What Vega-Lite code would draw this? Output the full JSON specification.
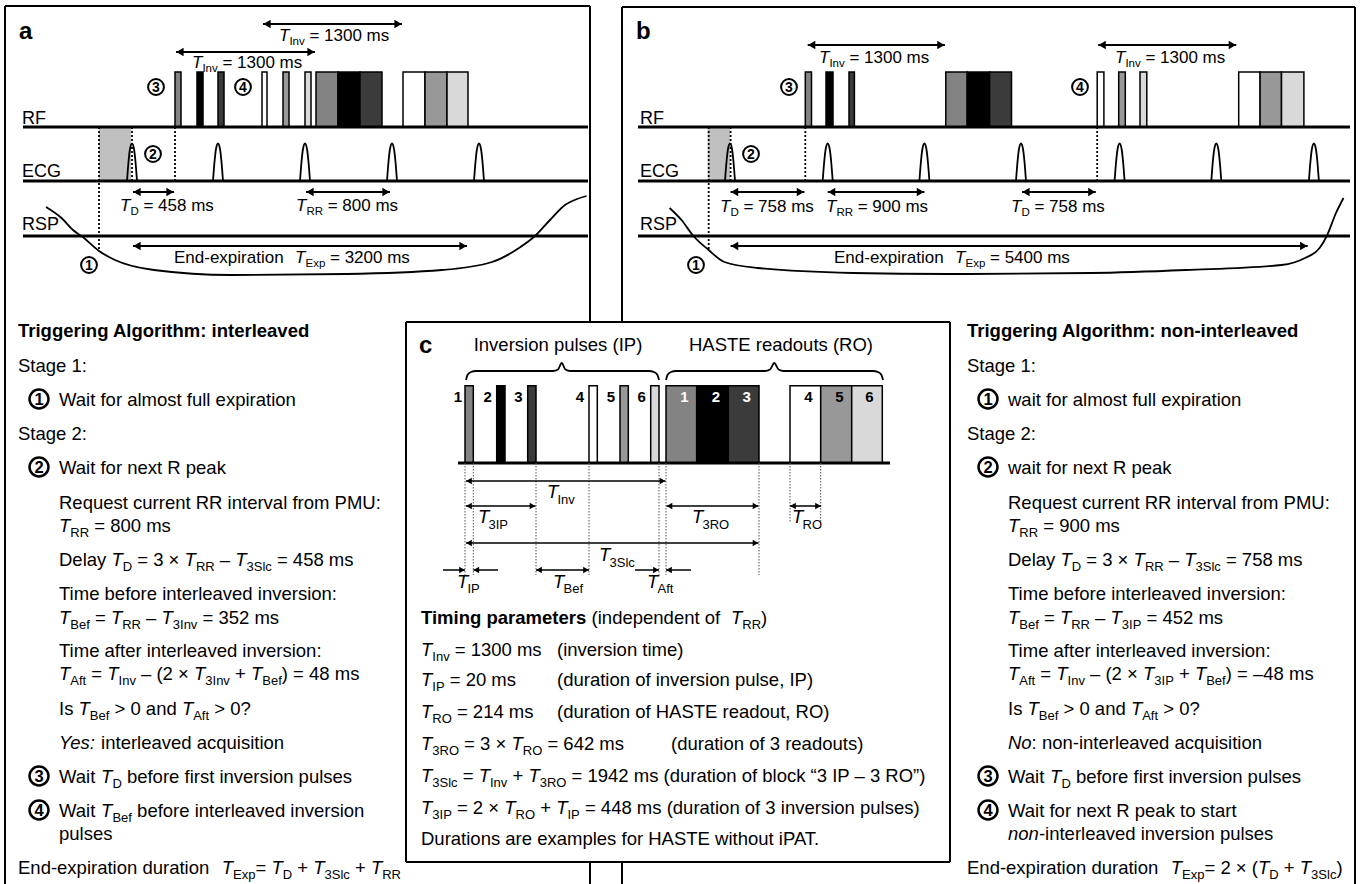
{
"$schema":"https://vega.github.io/schema/vega-lite/v6.json",
"width":1361,"height":884,"padding":0,"autosize":{"type":"none"},
"background":"white",
"config":{"view":{"stroke":null},"font":"Liberation Sans"},
"datasets":{
"shade":[{"x":99,"x2":131,"y":127,"y2":181},{"x":707.7,"x2":730,"y":127,"y2":181}],
"pulses":[
{"x":175,"x2":181,"y":72,"y2":127,"sl":"1"},{"x":197,"x2":203,"y":72,"y2":127,"sl":"2"},{"x":218,"x2":224,"y":72,"y2":127,"sl":"3"},{"x":262,"x2":267,"y":72,"y2":127,"sl":"4"},{"x":283,"x2":289,"y":72,"y2":127,"sl":"5"},{"x":305,"x2":311,"y":72,"y2":127,"sl":"6"},
{"x":316,"x2":338,"y":72,"y2":127,"sl":"1"},{"x":338,"x2":360,"y":72,"y2":127,"sl":"2"},{"x":360,"x2":382,"y":72,"y2":127,"sl":"3"},{"x":403,"x2":425,"y":72,"y2":127,"sl":"4"},{"x":425,"x2":447,"y":72,"y2":127,"sl":"5"},{"x":447,"x2":468,"y":72,"y2":127,"sl":"6"},
{"x":805.3,"x2":811.5,"y":72,"y2":127,"sl":"1"},{"x":826,"x2":833,"y":72,"y2":127,"sl":"2"},{"x":849,"x2":854.4,"y":72,"y2":127,"sl":"3"},{"x":945.8,"x2":967.2,"y":72,"y2":127,"sl":"1"},{"x":967.2,"x2":989.6,"y":72,"y2":127,"sl":"2"},{"x":989.6,"x2":1011.5,"y":72,"y2":127,"sl":"3"},
{"x":1097.2,"x2":1103.9,"y":72,"y2":127,"sl":"4"},{"x":1118.7,"x2":1125.3,"y":72,"y2":127,"sl":"5"},{"x":1140,"x2":1146.8,"y":72,"y2":127,"sl":"6"},{"x":1238.7,"x2":1260.1,"y":72,"y2":127,"sl":"4"},{"x":1260.1,"x2":1281.5,"y":72,"y2":127,"sl":"5"},{"x":1281.5,"x2":1303.9,"y":72,"y2":127,"sl":"6"},
{"x":465,"x2":473.3,"y":385.7,"y2":463,"sl":"1"},{"x":496.7,"x2":505,"y":385.7,"y2":463,"sl":"2"},{"x":527.7,"x2":536,"y":385.7,"y2":463,"sl":"3"},{"x":589,"x2":597.3,"y":385.7,"y2":463,"sl":"4"},{"x":620,"x2":628.3,"y":385.7,"y2":463,"sl":"5"},{"x":650.7,"x2":659,"y":385.7,"y2":463,"sl":"6"},
{"x":666,"x2":696.7,"y":385.7,"y2":463,"sl":"1"},{"x":696.7,"x2":728.3,"y":385.7,"y2":463,"sl":"2"},{"x":728.3,"x2":759,"y":385.7,"y2":463,"sl":"3"},{"x":790,"x2":820.7,"y":385.7,"y2":463,"sl":"4"},{"x":820.7,"x2":851.7,"y":385.7,"y2":463,"sl":"5"},{"x":851.7,"x2":882.3,"y":385.7,"y2":463,"sl":"6"}
],
"lines":[
{"x":5,"y":6,"x2":5,"y2":884,"k":"bd"},{"x":5,"y":6,"x2":590,"y2":6,"k":"bd"},{"x":590,"y":6,"x2":590,"y2":322,"k":"bd"},{"x":590,"y":862,"x2":590,"y2":884,"k":"bd"},
{"x":622,"y":7,"x2":1355,"y2":7,"k":"bd"},{"x":622,"y":7,"x2":622,"y2":322,"k":"bd"},{"x":622,"y":862,"x2":622,"y2":884,"k":"bd"},{"x":1355,"y":7,"x2":1355,"y2":884,"k":"bd"},
{"x":406,"y":322,"x2":950,"y2":322,"k":"bd"},{"x":406,"y":322,"x2":406,"y2":862,"k":"bd"},{"x":950,"y":322,"x2":950,"y2":862,"k":"bd"},{"x":406,"y":862,"x2":950,"y2":862,"k":"bd"},
{"x":23,"y":127,"x2":588,"y2":127,"k":"th"},{"x":23,"y":181,"x2":588,"y2":181,"k":"th"},{"x":23,"y":236,"x2":588,"y2":236,"k":"th"},
{"x":638,"y":127,"x2":1350,"y2":127,"k":"th"},{"x":638,"y":181,"x2":1350,"y2":181,"k":"th"},{"x":638,"y":236,"x2":1350,"y2":236,"k":"th"},
{"x":458,"y":463,"x2":890,"y2":463,"k":"th"},
{"x":99,"y":127,"x2":99,"y2":251,"k":"dt"},{"x":132,"y":127,"x2":132,"y2":181,"k":"dt"},{"x":175,"y":127,"x2":175,"y2":181,"k":"dt"},
{"x":708.7,"y":127,"x2":708.7,"y2":250,"k":"dt"},{"x":730.6,"y":127,"x2":730.6,"y2":181,"k":"dt"},{"x":805.3,"y":127,"x2":805.3,"y2":181,"k":"dt"},{"x":1097.2,"y":127,"x2":1097.2,"y2":181,"k":"dt"},
{"x":263,"y":24,"x2":402,"y2":24,"k":"ar"},{"x":176,"y":52,"x2":315,"y2":52,"k":"ar"},{"x":133,"y":192,"x2":174,"y2":192,"k":"ar"},{"x":306,"y":192,"x2":390,"y2":192,"k":"ar"},{"x":133,"y":246,"x2":467,"y2":246,"k":"ar"},
{"x":807.7,"y":45,"x2":944.9,"y2":45,"k":"ar"},{"x":1098.2,"y":45,"x2":1236.3,"y2":45,"k":"ar"},{"x":730.6,"y":192,"x2":804.4,"y2":192,"k":"ar"},{"x":827.7,"y":192,"x2":924.4,"y2":192,"k":"ar"},{"x":1022,"y":192,"x2":1095.8,"y2":192,"k":"ar"},{"x":730.6,"y":246,"x2":1307.7,"y2":246,"k":"ar"},
{"x":466,"y":481,"x2":665.5,"y2":481,"k":"ca"},{"x":466,"y":506,"x2":535.5,"y2":506,"k":"ca"},{"x":666.5,"y":506,"x2":758.5,"y2":506,"k":"ca"},{"x":790,"y":506,"x2":821,"y2":506,"k":"ca"},{"x":466,"y":543,"x2":758.5,"y2":543,"k":"ca"},
{"x":443,"y":570,"x2":465,"y2":570,"k":"ca"},{"x":473.3,"y":570,"x2":498,"y2":570,"k":"ca"},{"x":536,"y":570,"x2":589,"y2":570,"k":"ca"},{"x":635,"y":570,"x2":659,"y2":570,"k":"ca"},{"x":666,"y":570,"x2":691,"y2":570,"k":"ca"},
{"x":465,"y":463,"x2":465,"y2":575,"k":"cd"},{"x":473.3,"y":463,"x2":473.3,"y2":575,"k":"cd"},{"x":536,"y":463,"x2":536,"y2":575,"k":"cd"},{"x":589,"y":463,"x2":589,"y2":575,"k":"cd"},{"x":659,"y":463,"x2":659,"y2":575,"k":"cd"},{"x":666,"y":463,"x2":666,"y2":575,"k":"cd"},{"x":759,"y":463,"x2":759,"y2":575,"k":"cd"},{"x":790,"y":463,"x2":790,"y2":523,"k":"cd"},{"x":820.7,"y":463,"x2":820.7,"y2":523,"k":"cd"}
],
"curves":[
{"id":"ra","x":46,"y":207},{"id":"ra","x":61.5,"y":218},{"id":"ra","x":73,"y":230},{"id":"ra","x":82.7,"y":237},{"id":"ra","x":99,"y":251},{"id":"ra","x":115,"y":260},{"id":"ra","x":154,"y":270},{"id":"ra","x":231,"y":275},{"id":"ra","x":346,"y":274},{"id":"ra","x":442,"y":270},{"id":"ra","x":492,"y":262},{"id":"ra","x":519,"y":248},{"id":"ra","x":535,"y":236},{"id":"ra","x":550,"y":220},{"id":"ra","x":565,"y":205},{"id":"ra","x":577,"y":199},{"id":"ra","x":586.5,"y":196},
{"id":"rb","x":669.6,"y":208},{"id":"rb","x":681.5,"y":220},{"id":"rb","x":693.4,"y":236},{"id":"rb","x":708.7,"y":250},{"id":"rb","x":724.4,"y":262},{"id":"rb","x":757.7,"y":268},{"id":"rb","x":853,"y":273},{"id":"rb","x":948,"y":274},{"id":"rb","x":1091,"y":273},{"id":"rb","x":1186,"y":270},{"id":"rb","x":1281.5,"y":265},{"id":"rb","x":1305,"y":258},{"id":"rb","x":1319.6,"y":248},{"id":"rb","x":1326.8,"y":236},{"id":"rb","x":1336,"y":213},{"id":"rb","x":1343.5,"y":198},
{"id":"ea1","x":127,"y":181},{"id":"ea1","x":128.4,"y":163},{"id":"ea1","x":130,"y":149},{"id":"ea1","x":132,"y":143.5},{"id":"ea1","x":134,"y":149},{"id":"ea1","x":135.6,"y":163},{"id":"ea1","x":137,"y":181},
{"id":"ea2","x":213,"y":181},{"id":"ea2","x":214.4,"y":163},{"id":"ea2","x":216,"y":149},{"id":"ea2","x":218,"y":143.5},{"id":"ea2","x":220,"y":149},{"id":"ea2","x":221.6,"y":163},{"id":"ea2","x":223,"y":181},
{"id":"ea3","x":300,"y":181},{"id":"ea3","x":301.4,"y":163},{"id":"ea3","x":303,"y":149},{"id":"ea3","x":305,"y":143.5},{"id":"ea3","x":307,"y":149},{"id":"ea3","x":308.6,"y":163},{"id":"ea3","x":310,"y":181},
{"id":"ea4","x":387,"y":181},{"id":"ea4","x":388.4,"y":163},{"id":"ea4","x":390,"y":149},{"id":"ea4","x":392,"y":143.5},{"id":"ea4","x":394,"y":149},{"id":"ea4","x":395.6,"y":163},{"id":"ea4","x":397,"y":181},
{"id":"ea5","x":474,"y":181},{"id":"ea5","x":475.4,"y":163},{"id":"ea5","x":477,"y":149},{"id":"ea5","x":479,"y":143.5},{"id":"ea5","x":481,"y":149},{"id":"ea5","x":482.6,"y":163},{"id":"ea5","x":484,"y":181},
{"id":"eb1","x":725,"y":181},{"id":"eb1","x":726.4,"y":163},{"id":"eb1","x":728,"y":149},{"id":"eb1","x":730,"y":143.5},{"id":"eb1","x":732,"y":149},{"id":"eb1","x":733.6,"y":163},{"id":"eb1","x":735,"y":181},
{"id":"eb2","x":822.7,"y":181},{"id":"eb2","x":824.1,"y":163},{"id":"eb2","x":825.7,"y":149},{"id":"eb2","x":827.7,"y":143.5},{"id":"eb2","x":829.7,"y":149},{"id":"eb2","x":831.3,"y":163},{"id":"eb2","x":832.7,"y":181},
{"id":"eb3","x":919.4,"y":181},{"id":"eb3","x":920.8,"y":163},{"id":"eb3","x":922.4,"y":149},{"id":"eb3","x":924.4,"y":143.5},{"id":"eb3","x":926.4,"y":149},{"id":"eb3","x":928,"y":163},{"id":"eb3","x":929.4,"y":181},
{"id":"eb4","x":1016,"y":181},{"id":"eb4","x":1017.4,"y":163},{"id":"eb4","x":1019,"y":149},{"id":"eb4","x":1021,"y":143.5},{"id":"eb4","x":1023,"y":149},{"id":"eb4","x":1024.6,"y":163},{"id":"eb4","x":1026,"y":181},
{"id":"eb5","x":1114.6,"y":181},{"id":"eb5","x":1116,"y":163},{"id":"eb5","x":1117.6,"y":149},{"id":"eb5","x":1119.6,"y":143.5},{"id":"eb5","x":1121.6,"y":149},{"id":"eb5","x":1123.2,"y":163},{"id":"eb5","x":1124.6,"y":181},
{"id":"eb6","x":1211.3,"y":181},{"id":"eb6","x":1212.7,"y":163},{"id":"eb6","x":1214.3,"y":149},{"id":"eb6","x":1216.3,"y":143.5},{"id":"eb6","x":1218.3,"y":149},{"id":"eb6","x":1219.9,"y":163},{"id":"eb6","x":1221.3,"y":181},
{"id":"eb7","x":1308.9,"y":181},{"id":"eb7","x":1310.3,"y":163},{"id":"eb7","x":1311.9,"y":149},{"id":"eb7","x":1313.9,"y":143.5},{"id":"eb7","x":1315.9,"y":149},{"id":"eb7","x":1317.5,"y":163},{"id":"eb7","x":1318.9,"y":181},
{"id":"br1","x":466,"y":380},{"id":"br1","x":467.5,"y":375},{"id":"br1","x":471,"y":372},{"id":"br1","x":476,"y":371},{"id":"br1","x":553,"y":371},{"id":"br1","x":558,"y":369.5},{"id":"br1","x":561.7,"y":363},{"id":"br1","x":565.4,"y":369.5},{"id":"br1","x":570.4,"y":371},{"id":"br1","x":649,"y":371},{"id":"br1","x":654,"y":372},{"id":"br1","x":657.5,"y":375},{"id":"br1","x":659,"y":380},
{"id":"br2","x":666,"y":380},{"id":"br2","x":667.5,"y":375},{"id":"br2","x":671,"y":372},{"id":"br2","x":676,"y":371},{"id":"br2","x":765,"y":371},{"id":"br2","x":770,"y":369.5},{"id":"br2","x":774.3,"y":363},{"id":"br2","x":778.6,"y":369.5},{"id":"br2","x":783.6,"y":371},{"id":"br2","x":873,"y":371},{"id":"br2","x":878,"y":372},{"id":"br2","x":881.5,"y":375},{"id":"br2","x":883,"y":380}
],
"heads":[
{"x":267,"y":24,"d":"l","g":"ab"},{"x":398,"y":24,"d":"r","g":"ab"},{"x":180,"y":52,"d":"l","g":"ab"},{"x":311,"y":52,"d":"r","g":"ab"},{"x":137,"y":192,"d":"l","g":"ab"},{"x":170,"y":192,"d":"r","g":"ab"},{"x":310,"y":192,"d":"l","g":"ab"},{"x":386,"y":192,"d":"r","g":"ab"},{"x":137,"y":246,"d":"l","g":"ab"},{"x":463,"y":246,"d":"r","g":"ab"},
{"x":811.7,"y":45,"d":"l","g":"ab"},{"x":940.9,"y":45,"d":"r","g":"ab"},{"x":1102.2,"y":45,"d":"l","g":"ab"},{"x":1232.3,"y":45,"d":"r","g":"ab"},{"x":734.6,"y":192,"d":"l","g":"ab"},{"x":800.4,"y":192,"d":"r","g":"ab"},{"x":831.7,"y":192,"d":"l","g":"ab"},{"x":920.4,"y":192,"d":"r","g":"ab"},{"x":1026,"y":192,"d":"l","g":"ab"},{"x":1091.8,"y":192,"d":"r","g":"ab"},{"x":734.6,"y":246,"d":"l","g":"ab"},{"x":1303.7,"y":246,"d":"r","g":"ab"},
{"x":469,"y":481,"d":"l","g":"c"},{"x":662.5,"y":481,"d":"r","g":"c"},{"x":469,"y":506,"d":"l","g":"c"},{"x":532.5,"y":506,"d":"r","g":"c"},{"x":669.5,"y":506,"d":"l","g":"c"},{"x":755.5,"y":506,"d":"r","g":"c"},{"x":793,"y":506,"d":"l","g":"c"},{"x":818,"y":506,"d":"r","g":"c"},{"x":469,"y":543,"d":"l","g":"c"},{"x":755.5,"y":543,"d":"r","g":"c"},
{"x":462,"y":570,"d":"r","g":"c"},{"x":476.3,"y":570,"d":"l","g":"c"},{"x":539,"y":570,"d":"l","g":"c"},{"x":586,"y":570,"d":"r","g":"c"},{"x":656,"y":570,"d":"r","g":"c"},{"x":669,"y":570,"d":"l","g":"c"}
],
"circles":[
{"x":156,"y":87,"n":"3","g":"p"},{"x":243,"y":87,"n":"4","g":"p"},{"x":153,"y":154,"n":"2","g":"p"},{"x":89,"y":265,"n":"1","g":"p"},
{"x":789,"y":87,"n":"3","g":"p"},{"x":1080,"y":87,"n":"4","g":"p"},{"x":751,"y":154,"n":"2","g":"p"},{"x":696,"y":265,"n":"1","g":"p"},
{"x":39,"y":399,"n":"1","g":"t"},{"x":39,"y":467,"n":"2","g":"t"},{"x":39,"y":776,"n":"3","g":"t"},{"x":39,"y":810,"n":"4","g":"t"},
{"x":988,"y":399,"n":"1","g":"t"},{"x":988,"y":467,"n":"2","g":"t"},{"x":988,"y":776,"n":"3","g":"t"},{"x":988,"y":810,"n":"4","g":"t"}
],
"txt":[
{"x":19,"y":39,"t":"a","s":"h"},{"x":636,"y":39,"t":"b","s":"h"},{"x":419,"y":353,"t":"c","s":"h"},
{"x":22,"y":124,"t":"RF","s":"pl"},{"x":22,"y":177,"t":"ECG","s":"pl"},{"x":22,"y":230,"t":"RSP","s":"pl"},
{"x":640,"y":124,"t":"RF","s":"pl"},{"x":640,"y":177,"t":"ECG","s":"pl"},{"x":640,"y":230,"t":"RSP","s":"pl"},
{"x":279,"y":41,"t":"T","s":"pi"},{"x":289.4,"y":45,"t":"Inv","s":"ps"},{"x":309.4,"y":41,"t":"= 1300 ms","s":"pn"},
{"x":192,"y":68,"t":"T","s":"pi"},{"x":202.4,"y":72,"t":"Inv","s":"ps"},{"x":222.4,"y":68,"t":"= 1300 ms","s":"pn"},
{"x":120,"y":211,"t":"T","s":"pi"},{"x":130.4,"y":215,"t":"D","s":"ps"},{"x":143.4,"y":211,"t":"= 458 ms","s":"pn"},
{"x":296,"y":211,"t":"T","s":"pi"},{"x":306.4,"y":215,"t":"RR","s":"ps"},{"x":327.7,"y":211,"t":"= 800 ms","s":"pn"},
{"x":174,"y":263,"t":"End-expiration","s":"pn"},{"x":295.1,"y":263,"t":"T","s":"pi"},{"x":305.5,"y":267,"t":"Exp","s":"ps"},{"x":330,"y":263,"t":"= 3200 ms","s":"pn"},
{"x":819,"y":63,"t":"T","s":"pi"},{"x":829.4,"y":67,"t":"Inv","s":"ps"},{"x":849.4,"y":63,"t":"= 1300 ms","s":"pn"},
{"x":1115,"y":63,"t":"T","s":"pi"},{"x":1125.4,"y":67,"t":"Inv","s":"ps"},{"x":1145.4,"y":63,"t":"= 1300 ms","s":"pn"},
{"x":720,"y":212,"t":"T","s":"pi"},{"x":730.4,"y":216,"t":"D","s":"ps"},{"x":743.4,"y":212,"t":"= 758 ms","s":"pn"},
{"x":826,"y":212,"t":"T","s":"pi"},{"x":836.4,"y":216,"t":"RR","s":"ps"},{"x":857.7,"y":212,"t":"= 900 ms","s":"pn"},
{"x":1011,"y":212,"t":"T","s":"pi"},{"x":1021.4,"y":216,"t":"D","s":"ps"},{"x":1034.4,"y":212,"t":"= 758 ms","s":"pn"},
{"x":834,"y":263,"t":"End-expiration","s":"pn"},{"x":955.1,"y":263,"t":"T","s":"pi"},{"x":965.5,"y":267,"t":"Exp","s":"ps"},{"x":990,"y":263,"t":"= 5400 ms","s":"pn"},
{"x":558,"y":351,"t":"Inversion pulses (IP)","s":"cc"},{"x":781,"y":351,"t":"HASTE readouts (RO)","s":"cc"},
{"x":458,"y":401.5,"t":"1","s":"k"},{"x":487.7,"y":401.5,"t":"2","s":"k"},{"x":518.3,"y":401.5,"t":"3","s":"k"},{"x":580,"y":401.5,"t":"4","s":"k"},{"x":611,"y":401.5,"t":"5","s":"k"},{"x":641.7,"y":401.5,"t":"6","s":"k"},
{"x":684.3,"y":401.5,"t":"1","s":"w"},{"x":716,"y":401.5,"t":"2","s":"w"},{"x":746.7,"y":401.5,"t":"3","s":"w"},{"x":808.3,"y":401.5,"t":"4","s":"k"},{"x":839.3,"y":401.5,"t":"5","s":"k"},{"x":869.3,"y":401.5,"t":"6","s":"k"},
{"x":547,"y":498,"t":"T","s":"i"},{"x":557.5,"y":504,"t":"Inv","s":"s"},
{"x":478,"y":523,"t":"T","s":"i"},{"x":488.5,"y":529,"t":"3IP","s":"s"},
{"x":692,"y":523,"t":"T","s":"i"},{"x":702.5,"y":529,"t":"3RO","s":"s"},
{"x":792,"y":523,"t":"T","s":"i"},{"x":802.5,"y":529,"t":"RO","s":"s"},
{"x":599,"y":561,"t":"T","s":"i"},{"x":609.5,"y":567,"t":"3Slc","s":"s"},
{"x":457,"y":588,"t":"T","s":"i"},{"x":467.5,"y":593,"t":"IP","s":"s"},
{"x":553,"y":588,"t":"T","s":"i"},{"x":563.5,"y":593,"t":"Bef","s":"s"},
{"x":647,"y":588,"t":"T","s":"i"},{"x":657.5,"y":593,"t":"Aft","s":"s"},
{"x":421,"y":623.5,"t":"Timing parameters","s":"b"},{"x":591.6,"y":623.5,"t":"(independent of","s":"n"},{"x":731,"y":623.5,"t":"T","s":"i"},{"x":742.3,"y":628.5,"t":"RR","s":"s"},{"x":761.1,"y":623.5,"t":")","s":"n"},
{"x":421,"y":655.5,"t":"T","s":"i"},{"x":432.3,"y":660.5,"t":"Inv","s":"s"},{"x":454.7,"y":655.5,"t":"= 1300 ms","s":"n"},{"x":557,"y":655.5,"t":"(inversion time)","s":"n"},
{"x":421,"y":686,"t":"T","s":"i"},{"x":432.3,"y":691,"t":"IP","s":"s"},{"x":449.7,"y":686,"t":"= 20 ms","s":"n"},{"x":557,"y":686,"t":"(duration of inversion pulse, IP)","s":"n"},
{"x":421,"y":717.5,"t":"T","s":"i"},{"x":432.3,"y":722.5,"t":"RO","s":"s"},{"x":456.9,"y":717.5,"t":"= 214 ms","s":"n"},{"x":557,"y":717.5,"t":"(duration of HASTE readout, RO)","s":"n"},
{"x":421,"y":750,"t":"T","s":"i"},{"x":432.3,"y":755,"t":"3RO","s":"s"},{"x":464.1,"y":750,"t":"= 3 ×","s":"n"},{"x":511.5,"y":750,"t":"T","s":"i"},{"x":522.8,"y":755,"t":"RO","s":"s"},{"x":547.4,"y":750,"t":"= 642 ms","s":"n"},{"x":671,"y":750,"t":"(duration of 3 readouts)","s":"n"},
{"x":421,"y":781.5,"t":"T","s":"i"},{"x":432.3,"y":786.5,"t":"3Slc","s":"s"},{"x":462.7,"y":781.5,"t":"=","s":"n"},{"x":478.7,"y":781.5,"t":"T","s":"i"},{"x":490,"y":786.5,"t":"Inv","s":"s"},{"x":512.4,"y":781.5,"t":"+","s":"n"},{"x":528.4,"y":781.5,"t":"T","s":"i"},{"x":539.7,"y":786.5,"t":"3RO","s":"s"},{"x":571.5,"y":781.5,"t":"= 1942 ms (duration of block “3 IP – 3 RO”)","s":"n"},
{"x":421,"y":814,"t":"T","s":"i"},{"x":432.3,"y":819,"t":"3IP","s":"s"},{"x":456.9,"y":814,"t":"= 2 ×","s":"n"},{"x":504.3,"y":814,"t":"T","s":"i"},{"x":515.6,"y":819,"t":"RO","s":"s"},{"x":540.2,"y":814,"t":"+","s":"n"},{"x":556.2,"y":814,"t":"T","s":"i"},{"x":567.5,"y":819,"t":"IP","s":"s"},{"x":584.9,"y":814,"t":"= 448 ms (duration of 3 inversion pulses)","s":"n"},
{"x":421,"y":845,"t":"Durations are examples for HASTE without iPAT.","s":"n"},
{"x":18,"y":336.5,"t":"Triggering Algorithm: interleaved","s":"b"},
{"x":18,"y":371.5,"t":"Stage 1:","s":"n"},
{"x":59,"y":405.5,"t":"Wait for almost full expiration","s":"n"},
{"x":18,"y":439.5,"t":"Stage 2:","s":"n"},
{"x":59,"y":473.5,"t":"Wait for next R peak","s":"n"},
{"x":59,"y":508.5,"t":"Request current RR interval from PMU:","s":"n"},
{"x":59,"y":531.5,"t":"T","s":"i"},{"x":70.3,"y":536.5,"t":"RR","s":"s"},{"x":94.2,"y":531.5,"t":"= 800 ms","s":"n"},
{"x":59,"y":565.5,"t":"Delay","s":"n"},{"x":111.4,"y":565.5,"t":"T","s":"i"},{"x":122.7,"y":570.5,"t":"D","s":"s"},{"x":137.2,"y":565.5,"t":"= 3 ×","s":"n"},{"x":184.6,"y":565.5,"t":"T","s":"i"},{"x":195.9,"y":570.5,"t":"RR","s":"s"},{"x":219.8,"y":565.5,"t":"–","s":"n"},{"x":235.2,"y":565.5,"t":"T","s":"i"},{"x":246.5,"y":570.5,"t":"3Slc","s":"s"},{"x":276.9,"y":565.5,"t":"= 458 ms","s":"n"},
{"x":59,"y":599.5,"t":"Time before interleaved inversion:","s":"n"},
{"x":59,"y":623.5,"t":"T","s":"i"},{"x":70.3,"y":628.5,"t":"Bef","s":"s"},{"x":94.9,"y":623.5,"t":"=","s":"n"},{"x":110.9,"y":623.5,"t":"T","s":"i"},{"x":122.2,"y":628.5,"t":"RR","s":"s"},{"x":146.1,"y":623.5,"t":"–","s":"n"},{"x":161.5,"y":623.5,"t":"T","s":"i"},{"x":172.8,"y":628.5,"t":"3Inv","s":"s"},{"x":202.5,"y":623.5,"t":"= 352 ms","s":"n"},
{"x":59,"y":656.5,"t":"Time after interleaved inversion:","s":"n"},
{"x":59,"y":679.5,"t":"T","s":"i"},{"x":70.3,"y":684.5,"t":"Aft","s":"s"},{"x":91.3,"y":679.5,"t":"=","s":"n"},{"x":107.3,"y":679.5,"t":"T","s":"i"},{"x":118.6,"y":684.5,"t":"Inv","s":"s"},{"x":141,"y":679.5,"t":"– (2 ×","s":"n"},{"x":194,"y":679.5,"t":"T","s":"i"},{"x":205.3,"y":684.5,"t":"3Inv","s":"s"},{"x":235,"y":679.5,"t":"+","s":"n"},{"x":251,"y":679.5,"t":"T","s":"i"},{"x":262.3,"y":684.5,"t":"Bef","s":"s"},{"x":281.8,"y":679.5,"t":") = 48 ms","s":"n"},
{"x":59,"y":714.5,"t":"Is","s":"n"},{"x":78.5,"y":714.5,"t":"T","s":"i"},{"x":89.8,"y":719.5,"t":"Bef","s":"s"},{"x":114.5,"y":714.5,"t":"> 0 and","s":"n"},{"x":181.9,"y":714.5,"t":"T","s":"i"},{"x":193.2,"y":719.5,"t":"Aft","s":"s"},{"x":214.2,"y":714.5,"t":"> 0?","s":"n"},
{"x":59,"y":748.5,"t":"Yes:","s":"i"},{"x":101.1,"y":748.5,"t":"interleaved acquisition","s":"n"},
{"x":59,"y":782.5,"t":"Wait","s":"n"},{"x":101.1,"y":782.5,"t":"T","s":"i"},{"x":112.4,"y":787.5,"t":"D","s":"s"},{"x":126.9,"y":782.5,"t":"before first inversion pulses","s":"n"},
{"x":59,"y":816.5,"t":"Wait","s":"n"},{"x":101.1,"y":816.5,"t":"T","s":"i"},{"x":112.4,"y":821.5,"t":"Bef","s":"s"},{"x":137.1,"y":816.5,"t":"before interleaved inversion","s":"n"},
{"x":59,"y":839.5,"t":"pulses","s":"n"},
{"x":18,"y":873.5,"t":"End-expiration duration","s":"n"},{"x":221.8,"y":873.5,"t":"T","s":"i"},{"x":233.1,"y":878.5,"t":"Exp","s":"s"},{"x":255.5,"y":873.5,"t":"=","s":"n"},{"x":271.5,"y":873.5,"t":"T","s":"i"},{"x":282.8,"y":878.5,"t":"D","s":"s"},{"x":297.2,"y":873.5,"t":"+","s":"n"},{"x":313.2,"y":873.5,"t":"T","s":"i"},{"x":324.5,"y":878.5,"t":"3Slc","s":"s"},{"x":354.9,"y":873.5,"t":"+","s":"n"},{"x":370.9,"y":873.5,"t":"T","s":"i"},{"x":382.2,"y":878.5,"t":"RR","s":"s"},
{"x":967,"y":336.5,"t":"Triggering Algorithm: non-interleaved","s":"b"},
{"x":967,"y":371.5,"t":"Stage 1:","s":"n"},
{"x":1008,"y":405.5,"t":"wait for almost full expiration","s":"n"},
{"x":967,"y":439.5,"t":"Stage 2:","s":"n"},
{"x":1008,"y":473.5,"t":"wait for next R peak","s":"n"},
{"x":1008,"y":508.5,"t":"Request current RR interval from PMU:","s":"n"},
{"x":1008,"y":531.5,"t":"T","s":"i"},{"x":1019.3,"y":536.5,"t":"RR","s":"s"},{"x":1043.2,"y":531.5,"t":"= 900 ms","s":"n"},
{"x":1008,"y":565.5,"t":"Delay","s":"n"},{"x":1060.4,"y":565.5,"t":"T","s":"i"},{"x":1071.7,"y":570.5,"t":"D","s":"s"},{"x":1086.2,"y":565.5,"t":"= 3 ×","s":"n"},{"x":1133.6,"y":565.5,"t":"T","s":"i"},{"x":1144.9,"y":570.5,"t":"RR","s":"s"},{"x":1168.8,"y":565.5,"t":"–","s":"n"},{"x":1184.2,"y":565.5,"t":"T","s":"i"},{"x":1195.5,"y":570.5,"t":"3Slc","s":"s"},{"x":1225.9,"y":565.5,"t":"= 758 ms","s":"n"},
{"x":1008,"y":599.5,"t":"Time before interleaved inversion:","s":"n"},
{"x":1008,"y":623.5,"t":"T","s":"i"},{"x":1019.3,"y":628.5,"t":"Bef","s":"s"},{"x":1043.9,"y":623.5,"t":"=","s":"n"},{"x":1059.9,"y":623.5,"t":"T","s":"i"},{"x":1071.2,"y":628.5,"t":"RR","s":"s"},{"x":1095.1,"y":623.5,"t":"–","s":"n"},{"x":1110.5,"y":623.5,"t":"T","s":"i"},{"x":1121.8,"y":628.5,"t":"3IP","s":"s"},{"x":1146.5,"y":623.5,"t":"= 452 ms","s":"n"},
{"x":1008,"y":656.5,"t":"Time after interleaved inversion:","s":"n"},
{"x":1008,"y":679.5,"t":"T","s":"i"},{"x":1019.3,"y":684.5,"t":"Aft","s":"s"},{"x":1040.3,"y":679.5,"t":"=","s":"n"},{"x":1056.3,"y":679.5,"t":"T","s":"i"},{"x":1067.6,"y":684.5,"t":"Inv","s":"s"},{"x":1090,"y":679.5,"t":"– (2 ×","s":"n"},{"x":1143,"y":679.5,"t":"T","s":"i"},{"x":1154.3,"y":684.5,"t":"3IP","s":"s"},{"x":1179,"y":679.5,"t":"+","s":"n"},{"x":1194.9,"y":679.5,"t":"T","s":"i"},{"x":1206.2,"y":684.5,"t":"Bef","s":"s"},{"x":1225.8,"y":679.5,"t":") = –48 ms","s":"n"},
{"x":1008,"y":714.5,"t":"Is","s":"n"},{"x":1027.5,"y":714.5,"t":"T","s":"i"},{"x":1038.8,"y":719.5,"t":"Bef","s":"s"},{"x":1063.5,"y":714.5,"t":"> 0 and","s":"n"},{"x":1130.9,"y":714.5,"t":"T","s":"i"},{"x":1142.2,"y":719.5,"t":"Aft","s":"s"},{"x":1163.2,"y":714.5,"t":"> 0?","s":"n"},
{"x":1008,"y":748.5,"t":"No","s":"i"},{"x":1031.6,"y":748.5,"t":": non-interleaved acquisition","s":"n"},
{"x":1008,"y":782.5,"t":"Wait","s":"n"},{"x":1050.1,"y":782.5,"t":"T","s":"i"},{"x":1061.4,"y":787.5,"t":"D","s":"s"},{"x":1075.9,"y":782.5,"t":"before first inversion pulses","s":"n"},
{"x":1008,"y":816.5,"t":"Wait for next R peak to start","s":"n"},
{"x":1008,"y":839.5,"t":"non","s":"i"},{"x":1038.9,"y":839.5,"t":"-interleaved inversion pulses","s":"n"},
{"x":967,"y":873.5,"t":"End-expiration duration","s":"n"},{"x":1170.8,"y":873.5,"t":"T","s":"i"},{"x":1182.1,"y":878.5,"t":"Exp","s":"s"},{"x":1204.5,"y":873.5,"t":"= 2 × (","s":"n"},{"x":1258,"y":873.5,"t":"T","s":"i"},{"x":1269.3,"y":878.5,"t":"D","s":"s"},{"x":1283.8,"y":873.5,"t":"+","s":"n"},{"x":1299.8,"y":873.5,"t":"T","s":"i"},{"x":1311.1,"y":878.5,"t":"3Slc","s":"s"},{"x":1336.4,"y":873.5,"t":")","s":"n"}
]
},
"layer":[
{"data":{"name":"shade"},"mark":{"type":"rect","fill":"#c0c0c0","opacity":1},"encoding":{"x":{"field":"x","type":"quantitative","scale":{"domain":[0,1361],"nice":false,"zero":false},"axis":null},"x2":{"field":"x2"},"y":{"field":"y","type":"quantitative","scale":{"domain":[0,884],"nice":false,"zero":false,"reverse":true},"axis":null},"y2":{"field":"y2"}}},
{"data":{"name":"pulses"},"mark":{"type":"rect","stroke":"black","strokeWidth":1.5,"opacity":1},"encoding":{"x":{"field":"x","type":"quantitative","axis":null},"x2":{"field":"x2"},"y":{"field":"y","type":"quantitative","axis":null},"y2":{"field":"y2"},"fill":{"field":"sl","type":"nominal","scale":{"domain":["1","2","3","4","5","6"],"range":["#838383","#000000","#3b3b3b","#ffffff","#989898","#d9d9d9"]},"legend":null}}},
{"data":{"name":"lines"},"transform":[{"filter":"datum.k==='bd'"}],"mark":{"type":"rule","color":"black","strokeWidth":2},"encoding":{"x":{"field":"x","type":"quantitative","axis":null},"x2":{"field":"x2"},"y":{"field":"y","type":"quantitative","axis":null},"y2":{"field":"y2"}}},
{"data":{"name":"lines"},"transform":[{"filter":"datum.k==='th'"}],"mark":{"type":"rule","color":"black","strokeWidth":3},"encoding":{"x":{"field":"x","type":"quantitative","axis":null},"x2":{"field":"x2"},"y":{"field":"y","type":"quantitative","axis":null},"y2":{"field":"y2"}}},
{"data":{"name":"lines"},"transform":[{"filter":"datum.k==='dt'"}],"mark":{"type":"rule","color":"black","strokeWidth":1.8,"strokeDash":[2,2]},"encoding":{"x":{"field":"x","type":"quantitative","axis":null},"x2":{"field":"x2"},"y":{"field":"y","type":"quantitative","axis":null},"y2":{"field":"y2"}}},
{"data":{"name":"lines"},"transform":[{"filter":"datum.k==='cd'"}],"mark":{"type":"rule","color":"#555555","strokeWidth":1,"strokeDash":[1.5,1.5]},"encoding":{"x":{"field":"x","type":"quantitative","axis":null},"x2":{"field":"x2"},"y":{"field":"y","type":"quantitative","axis":null},"y2":{"field":"y2"}}},
{"data":{"name":"lines"},"transform":[{"filter":"datum.k==='ar'"}],"mark":{"type":"rule","color":"black","strokeWidth":2},"encoding":{"x":{"field":"x","type":"quantitative","axis":null},"x2":{"field":"x2"},"y":{"field":"y","type":"quantitative","axis":null},"y2":{"field":"y2"}}},
{"data":{"name":"lines"},"transform":[{"filter":"datum.k==='ca'"}],"mark":{"type":"rule","color":"black","strokeWidth":1.5},"encoding":{"x":{"field":"x","type":"quantitative","axis":null},"x2":{"field":"x2"},"y":{"field":"y","type":"quantitative","axis":null},"y2":{"field":"y2"}}},
{"data":{"name":"curves"},"mark":{"type":"line","interpolate":"monotone","color":"black","strokeWidth":1.8},"encoding":{"x":{"field":"x","type":"quantitative","axis":null},"y":{"field":"y","type":"quantitative","axis":null},"detail":{"field":"id","type":"nominal"}}},
{"data":{"name":"heads"},"transform":[{"filter":"datum.g==='ab'"}],"mark":{"type":"point","filled":true,"color":"black","opacity":1,"size":70},"encoding":{"x":{"field":"x","type":"quantitative","axis":null},"y":{"field":"y","type":"quantitative","axis":null},"shape":{"field":"d","type":"nominal","scale":{"domain":["l","r"],"range":["triangle-left","triangle-right"]},"legend":null}}},
{"data":{"name":"heads"},"transform":[{"filter":"datum.g==='c'"}],"mark":{"type":"point","filled":true,"color":"black","opacity":1,"size":42},"encoding":{"x":{"field":"x","type":"quantitative","axis":null},"y":{"field":"y","type":"quantitative","axis":null},"shape":{"field":"d","type":"nominal","legend":null}}},
{"data":{"name":"circles"},"transform":[{"filter":"datum.g==='p'"}],"mark":{"type":"point","shape":"circle","filled":true,"fill":"white","stroke":"black","strokeWidth":2,"size":250,"opacity":1},"encoding":{"x":{"field":"x","type":"quantitative","axis":null},"y":{"field":"y","type":"quantitative","axis":null}}},
{"data":{"name":"circles"},"transform":[{"filter":"datum.g==='t'"}],"mark":{"type":"point","shape":"circle","filled":true,"fill":"white","stroke":"black","strokeWidth":2.5,"size":360,"opacity":1},"encoding":{"x":{"field":"x","type":"quantitative","axis":null},"y":{"field":"y","type":"quantitative","axis":null}}},
{"data":{"name":"circles"},"transform":[{"filter":"datum.g==='p'"}],"mark":{"type":"text","align":"center","baseline":"middle","fontWeight":"bold","fontSize":14,"dy":1,"color":"black"},"encoding":{"x":{"field":"x","type":"quantitative","axis":null},"y":{"field":"y","type":"quantitative","axis":null},"text":{"field":"n","type":"nominal"}}},
{"data":{"name":"circles"},"transform":[{"filter":"datum.g==='t'"}],"mark":{"type":"text","align":"center","baseline":"middle","fontWeight":"bold","fontSize":16.5,"dy":1,"color":"black"},"encoding":{"x":{"field":"x","type":"quantitative","axis":null},"y":{"field":"y","type":"quantitative","axis":null},"text":{"field":"n","type":"nominal"}}},
{"data":{"name":"txt"},"transform":[{"filter":"datum.s==='n'"}],"mark":{"type":"text","align":"left","baseline":"alphabetic","fontSize":18.5,"color":"black"},"encoding":{"x":{"field":"x","type":"quantitative","axis":null},"y":{"field":"y","type":"quantitative","axis":null},"text":{"field":"t","type":"nominal"}}},
{"data":{"name":"txt"},"transform":[{"filter":"datum.s==='b'"}],"mark":{"type":"text","align":"left","baseline":"alphabetic","fontSize":18.5,"fontWeight":"bold","color":"black"},"encoding":{"x":{"field":"x","type":"quantitative","axis":null},"y":{"field":"y","type":"quantitative","axis":null},"text":{"field":"t","type":"nominal"}}},
{"data":{"name":"txt"},"transform":[{"filter":"datum.s==='i'"}],"mark":{"type":"text","align":"left","baseline":"alphabetic","fontSize":18.5,"fontStyle":"italic","color":"black"},"encoding":{"x":{"field":"x","type":"quantitative","axis":null},"y":{"field":"y","type":"quantitative","axis":null},"text":{"field":"t","type":"nominal"}}},
{"data":{"name":"txt"},"transform":[{"filter":"datum.s==='s'"}],"mark":{"type":"text","align":"left","baseline":"alphabetic","fontSize":13,"color":"black"},"encoding":{"x":{"field":"x","type":"quantitative","axis":null},"y":{"field":"y","type":"quantitative","axis":null},"text":{"field":"t","type":"nominal"}}},
{"data":{"name":"txt"},"transform":[{"filter":"datum.s==='h'"}],"mark":{"type":"text","align":"left","baseline":"alphabetic","fontSize":24,"fontWeight":"bold","color":"black"},"encoding":{"x":{"field":"x","type":"quantitative","axis":null},"y":{"field":"y","type":"quantitative","axis":null},"text":{"field":"t","type":"nominal"}}},
{"data":{"name":"txt"},"transform":[{"filter":"datum.s==='pl'"}],"mark":{"type":"text","align":"left","baseline":"alphabetic","fontSize":18,"color":"black"},"encoding":{"x":{"field":"x","type":"quantitative","axis":null},"y":{"field":"y","type":"quantitative","axis":null},"text":{"field":"t","type":"nominal"}}},
{"data":{"name":"txt"},"transform":[{"filter":"datum.s==='pn'"}],"mark":{"type":"text","align":"left","baseline":"alphabetic","fontSize":17,"color":"black"},"encoding":{"x":{"field":"x","type":"quantitative","axis":null},"y":{"field":"y","type":"quantitative","axis":null},"text":{"field":"t","type":"nominal"}}},
{"data":{"name":"txt"},"transform":[{"filter":"datum.s==='pi'"}],"mark":{"type":"text","align":"left","baseline":"alphabetic","fontSize":17,"fontStyle":"italic","color":"black"},"encoding":{"x":{"field":"x","type":"quantitative","axis":null},"y":{"field":"y","type":"quantitative","axis":null},"text":{"field":"t","type":"nominal"}}},
{"data":{"name":"txt"},"transform":[{"filter":"datum.s==='ps'"}],"mark":{"type":"text","align":"left","baseline":"alphabetic","fontSize":11.5,"color":"black"},"encoding":{"x":{"field":"x","type":"quantitative","axis":null},"y":{"field":"y","type":"quantitative","axis":null},"text":{"field":"t","type":"nominal"}}},
{"data":{"name":"txt"},"transform":[{"filter":"datum.s==='cc'"}],"mark":{"type":"text","align":"center","baseline":"alphabetic","fontSize":18.5,"color":"black"},"encoding":{"x":{"field":"x","type":"quantitative","axis":null},"y":{"field":"y","type":"quantitative","axis":null},"text":{"field":"t","type":"nominal"}}},
{"data":{"name":"txt"},"transform":[{"filter":"datum.s==='k'"}],"mark":{"type":"text","align":"center","baseline":"alphabetic","fontSize":15,"fontWeight":"bold","color":"black"},"encoding":{"x":{"field":"x","type":"quantitative","axis":null},"y":{"field":"y","type":"quantitative","axis":null},"text":{"field":"t","type":"nominal"}}},
{"data":{"name":"txt"},"transform":[{"filter":"datum.s==='w'"}],"mark":{"type":"text","align":"center","baseline":"alphabetic","fontSize":15,"fontWeight":"bold","color":"white"},"encoding":{"x":{"field":"x","type":"quantitative","axis":null},"y":{"field":"y","type":"quantitative","axis":null},"text":{"field":"t","type":"nominal"}}}
]
}
